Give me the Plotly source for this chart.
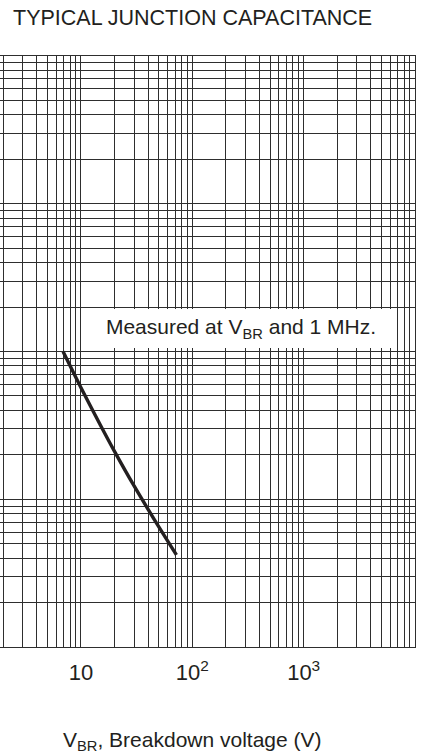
import math
import plotly.graph_objects as go

# ---- data ----
v_br = [6.9, 10, 15, 20, 30, 45, 72]          # breakdown voltage (V)
c_j = [1000, 569, 316, 211, 123, 74, 42]      # junction capacitance (pF)

x_decades = [1, 10, 100, 1000]
x_major_labels = {10: "10", 100: "10<sup>2</sup>", 1000: "10<sup>3</sup>"}
y_decades = [10, 100, 1000, 10000]

title_text = "TYPICAL JUNCTION CAPACITANCE"
x_title_text = "V<sub>BR</sub>, Breakdown voltage (V)"
note_text = "Measured at V<sub>BR</sub> and 1 MHz."

# ---- grid values (1..9 per decade) ----
x_tickvals, x_ticktext = [], []
for d in x_decades:
    for k in range(1, 10):
        v = k * d
        x_tickvals.append(v)
        x_ticktext.append(x_major_labels.get(v, ""))
x_tickvals.append(10000)
x_ticktext.append("")

y_tickvals = []
for d in y_decades:
    for k in range(1, 10):
        y_tickvals.append(k * d)
y_tickvals.append(100000)

INK = "#231f20"
GRID = "#2e2e2e"
FONT = "Liberation Sans, Arial, Helvetica, sans-serif"

fig = go.Figure()
fig.add_trace(go.Scatter(
    x=v_br, y=c_j, mode="lines",
    line=dict(color=INK, width=3.4, shape="spline", smoothing=0.8),
    showlegend=False, hoverinfo="skip",
))

W, H = 423, 755
ml, mr, mt, mb = 0, 8, 55.5, 107.5
plot_h = H - mt - mb

def paper_y(px):
    return (H - mb - px) / plot_h

fig.update_layout(
    width=W, height=H,
    margin=dict(l=ml, r=mr, t=mt, b=mb, pad=0),
    paper_bgcolor="white", plot_bgcolor="white",
    font=dict(family=FONT, color=INK),
    showlegend=False,
)

fig.update_xaxes(
    type="log", range=[math.log10(1.873), 4],
    tickmode="array", tickvals=x_tickvals, ticktext=x_ticktext,
    showgrid=True, gridcolor=GRID, gridwidth=1.15,
    ticks="", showline=True, linecolor=GRID, linewidth=1.15, mirror=True,
    zeroline=False, tickfont=dict(size=22, color=INK, family=FONT),
    ticklabelstandoff=6,
)
fig.update_yaxes(
    type="log", range=[1, 5],
    tickmode="array", tickvals=y_tickvals,
    showticklabels=False, side="right",
    showgrid=True, gridcolor=GRID, gridwidth=1.15,
    ticks="", showline=True, linecolor=GRID, linewidth=1.15, mirror=False,
    zeroline=False,
)

# chart title (centred on the original full plot, i.e. at 10^2)
fig.add_annotation(
    text=title_text, xref="x", x=2, yref="paper", y=paper_y(17.5),
    xanchor="center", yanchor="middle", showarrow=False,
    font=dict(size=21.5, color=INK, family=FONT),
)
# x-axis title
fig.add_annotation(
    text=x_title_text, xref="x", x=2, yref="paper", y=paper_y(742),
    xanchor="center", yanchor="middle", showarrow=False,
    font=dict(size=21, color=INK, family=FONT),
)
# measurement note in a white box
fig.add_annotation(
    text=note_text, xref="x", x=2.437, yref="y", y=3.157,
    xanchor="center", yanchor="middle", showarrow=False,
    width=310, height=39, bgcolor="white", borderpad=0, borderwidth=0,
    align="center",
    font=dict(size=21, color=INK, family=FONT),
)

fig.write_html(
    "out.html",
    config={"displayModeBar": False},
    post_script="document.body.style.margin='0';document.body.style.padding='0';",
)
